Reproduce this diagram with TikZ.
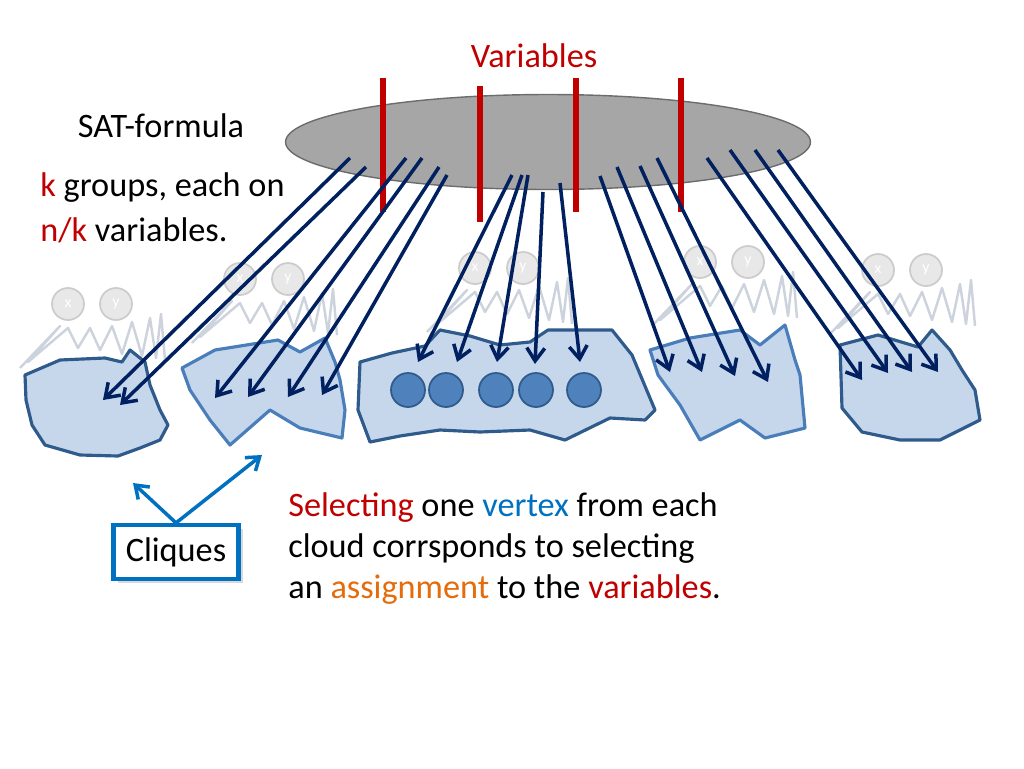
\documentclass[tikz,border=0pt]{standalone}
\usepackage{fontspec}
\setmainfont{Carlito}
\usetikzlibrary{arrows.meta,shadows,shapes.geometric}
\definecolor{vred}{HTML}{C00000}
\definecolor{navy}{HTML}{002060}
\definecolor{cfill}{HTML}{C6D7EC}
\definecolor{cdark}{HTML}{2F5A8C}
\definecolor{clight}{HTML}{4A7EBB}
\definecolor{cblue}{HTML}{0070C0}
\definecolor{corange}{HTML}{E46C0A}
\definecolor{dotc}{HTML}{4F81BD}
\definecolor{scribc}{HTML}{CCD3DD}
\tikzset{
 varline/.style={vred,line width=3.2pt},
 arr/.style={navy,line width=2pt,-{Straight Barb[length=2.6mm,width=3.6mm]}},
 cloudA/.style={fill=cfill,draw=cdark,line width=1.8pt,line join=round},
 cloudB/.style={fill=cfill,draw=clight,line width=1.8pt,line join=round},
 dot/.style={circle,fill=dotc,draw=cdark,line width=1pt,minimum size=0.68cm,inner sep=0pt},
 head/.style={circle,fill=gray!18,draw=gray!40,line width=1pt,minimum size=0.64cm,inner sep=0pt,text=white,font=\fontsize{9}{9}\selectfont},
 scrib/.style={scribc,line width=1.4pt,line join=round},
 txt/.style={font=\fontsize{19.5}{23}\selectfont,inner sep=0pt,anchor=west},
 cl/.style={cblue,line width=2pt,-{Straight Barb[length=2.4mm,width=3.4mm]}}
}
\newcommand{\person}[3]{%
 \node[head] (#3x) at (#1,#2) {x};
 \node[head] (#3y) at (#1+48,#2) {y};
 \draw[scrib] (#1-48,#2+64) -- (#1-8,#2+22) -- (#1-40,#2+58) -- (#1,#2+24) -- (#1+10,#2+44) -- (#1+22,#2+24) -- (#1+32,#2+46) -- (#1+44,#2+22) -- (#1+54,#2+50) -- (#1+64,#2+18) -- (#1+74,#2+52) -- (#1+82,#2+14) -- (#1+88,#2+54) -- (#1+93,#2+10) -- (#1+97,#2+56);
}
\begin{document}
\begin{tikzpicture}[x=0.02cm,y=-0.02cm]
\useasboundingbox (0,0) rectangle (1024,768);
% people
\person{68}{304}{p1}
\person{240}{279}{p2}
\person{475}{268}{p3}
\person{700}{262}{p4}
\person{878}{270}{p5}
% formula
\node[ellipse,minimum width=10.5cm,minimum height=1.9cm,fill=gray!70,draw=gray!85!black,line width=0.8pt] (sat) at (548,142) {};
\draw[varline] (383,78) -- (383,212);
\draw[varline] (480,86) -- (480,222);
\draw[varline] (576,78) -- (576,212);
\draw[varline] (681,78) -- (681,212);
\node[txt,vred,anchor=center] (vars) at (534,56) {Variables};
\node[txt,anchor=center] (satl) at (161,126) {SAT-formula};
\node[txt] (k1) at (40,188) {\textcolor{vred}{k} groups, each on};
\node[txt] (k2) at (40,230) {\textcolor{vred}{n/k} variables.};
% clouds
\draw[cloudA] (25,375) -- (60,360) -- (105,358) -- (122,362) -- (130,350) -- (145,362) -- (150,385) -- (160,410) -- (168,425) -- (160,440) -- (140,448) -- (118,456) -- (80,455) -- (45,445) -- (32,425) -- (26,400) -- cycle;
\draw[cloudB] (182,368) -- (215,350) -- (278,340) -- (300,352) -- (325,338) -- (335,362) -- (340,380) -- (345,410) -- (342,438) -- (300,428) -- (270,410) -- (230,445) -- (210,420) -- (190,390) -- cycle;
\draw[cloudA] (360,362) -- (392,353) -- (425,346) -- (440,330) -- (470,336) -- (500,345) -- (530,342) -- (548,330) -- (612,330) -- (632,355) -- (655,410) -- (645,420) -- (610,418) -- (565,440) -- (530,430) -- (480,432) -- (440,430) -- (400,436) -- (370,442) -- (358,410) -- cycle;
\draw[cloudB] (650,350) -- (690,338) -- (740,330) -- (760,345) -- (785,325) -- (795,360) -- (800,375) -- (805,428) -- (765,438) -- (740,420) -- (700,440) -- (680,405) -- (658,375) -- cycle;
\draw[cloudA] (840,345) -- (878,335) -- (918,347) -- (932,330) -- (950,350) -- (962,370) -- (975,390) -- (980,420) -- (960,430) -- (940,440) -- (900,440) -- (862,432) -- (842,408) -- cycle;
\foreach \x/\n in {408/1,446/2,496/3,536/4,584/5} \node[dot] (d\n) at (\x,390) {};
% arrows
\foreach \sx/\sy/\ex/\ey in {350/158/103/400, 366/167/120/405, 406/158/215/398, 422/158/248/397, 439/167/288/397, 447/175/322/395,
 512/175/418/362, 522/175/457/362, 528/175/497/362, 543/192/535/364, 560/183/580/362,
 600/176/670/372, 617/167/702/372, 640/166/735/376, 657/158/768/382,
 707/158/862/380, 730/150/888/373, 755/150/912/372, 778/150/938/372}
 {\coordinate (s) at (\sx,\sy); \coordinate (e) at (\ex,\ey); \draw[arr] (s) -- (e);}
% cliques
\node[draw=cblue,line width=2.4pt,fill=white,drop shadow={opacity=0.3},minimum width=2.5cm,minimum height=1.08cm,font=\fontsize{19.5}{22}\selectfont] (cq) at (176,552) {Cliques};
\coordinate (c1) at (133,483);
\coordinate (c2) at (262,455);
\draw[cl] (cq.north) -- (c1);
\draw[cl] (cq.north) -- (c2);
% bottom text
\node[txt] (b1) at (288,508) {\textcolor{vred}{Selecting} one \textcolor{cblue}{vertex} from each};
\node[txt] (b2) at (288,549) {cloud corrsponds to selecting};
\node[txt] (b3) at (288,590) {an \textcolor{corange}{assignment} to the \textcolor{vred}{variables}.};
\end{tikzpicture}
\end{document}
